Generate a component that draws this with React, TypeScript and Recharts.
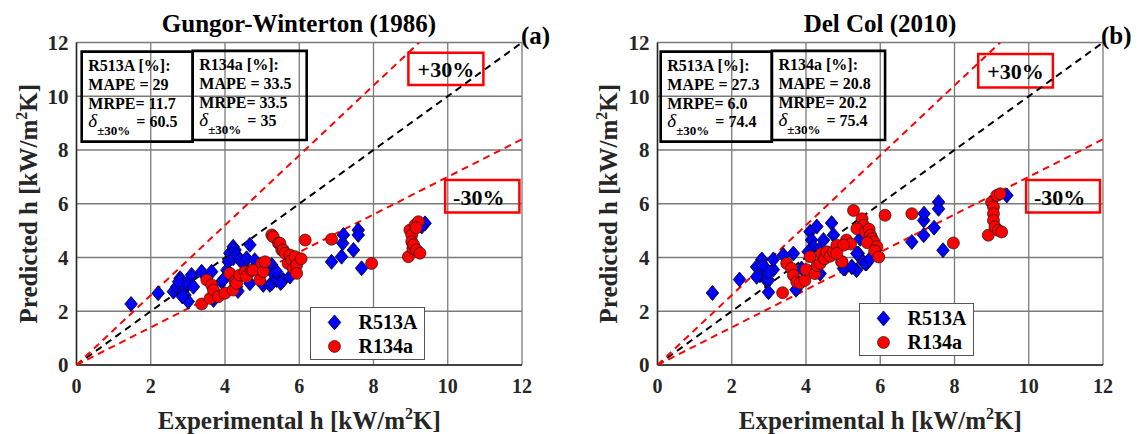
import React from 'react';
import { ScatterChart, Scatter, XAxis, YAxis, CartesianGrid, ReferenceArea, Legend } from 'recharts';

const FONT = '"Liberation Serif", "Times New Roman", serif';
const TICKS = [0, 2, 4, 6, 8, 10, 12];
const TEXT_COLOR = '#262626';

// Gungor-Winterton (1986): [experimental h, predicted h]
const gwR513A: [number, number][] = [
  [1.47, 2.27], [2.2, 2.67], [2.61, 2.73], [2.7, 2.91], [2.79, 3.23], [2.88, 2.79], [2.92, 2.6],
  [2.97, 3.04], [3.01, 2.36], [3.1, 3.35], [3.15, 2.91], [2.75, 3.1], [2.85, 2.55], [3.37, 3.47],
  [3.64, 3.47], [3.69, 2.42], [3.91, 3.1], [3.95, 3.16], [4.05, 3.53], [4.09, 3.84], [4.13, 4.16],
  [4.22, 4.4], [4.22, 3.97], [4.27, 4.28], [4.31, 4.09], [4.4, 3.91], [4.49, 3.78], [4.58, 3.97],
  [4.67, 4.47], [4.67, 3.04], [4.31, 2.91], [4.35, 2.75], [4.8, 3.9], [5.03, 2.98], [5.21, 2.98],
  [5.26, 3.04], [5.26, 3.72], [5.3, 3.41], [5.39, 3.16], [5.39, 3.47], [5.57, 3.16], [5.75, 3.29],
  [5.5, 3.05], [6.87, 3.84], [7.14, 4.03], [7.17, 4.53], [7.19, 4.84], [7.46, 4.28], [7.59, 5.02],
  [7.59, 4.84], [7.68, 3.6], [9.39, 5.27], [9.3, 5.15],
];
const gwR134a: [number, number][] = [
  [3.37, 2.27], [3.51, 3.16], [3.6, 2.48], [3.64, 2.98], [3.69, 2.79], [3.82, 2.54], [4.0, 2.67],
  [4.13, 3.41], [4.22, 2.79], [4.27, 3.1], [4.31, 3.04], [4.4, 3.35], [4.54, 3.47], [4.58, 3.29],
  [4.72, 3.53], [4.76, 3.53], [4.94, 3.16], [4.99, 3.78], [5.03, 3.47], [5.08, 3.84], [5.26, 4.84],
  [5.3, 4.77], [5.44, 4.53], [5.48, 4.53], [5.53, 4.28], [5.57, 4.28], [5.62, 4.16], [5.7, 3.78],
  [5.75, 4.09], [5.8, 3.91], [5.84, 3.6], [5.89, 4.03], [5.93, 3.72], [5.93, 3.41], [6.05, 3.95],
  [6.16, 4.65], [6.87, 4.68], [7.95, 3.78], [8.94, 4.03], [8.98, 5.02], [9.03, 4.84], [9.03, 4.59],
  [9.06, 4.34], [9.08, 4.47], [9.12, 5.21], [9.16, 4.28], [9.21, 5.33], [9.25, 4.16], [9.15, 5.1],
];

// Del Col (2010): [experimental h, predicted h]
const dcR513A: [number, number][] = [
  [1.48, 2.68], [2.21, 3.18], [2.81, 3.93], [2.67, 3.65], [2.76, 3.34], [2.9, 3.21], [2.99, 3.15],
  [3.12, 3.55], [2.99, 2.71], [3.12, 3.93], [2.67, 3.28], [2.85, 3.7], [3.0, 3.45], [3.39, 4.09],
  [3.66, 4.15], [3.73, 2.8], [3.88, 3.59], [4.11, 4.96], [4.29, 5.15], [4.15, 4.65], [4.2, 4.4],
  [4.06, 4.21], [4.69, 5.28], [4.74, 4.84], [4.38, 4.34], [4.47, 4.65], [4.24, 3.59], [4.38, 3.4],
  [5.05, 3.59], [5.23, 3.65], [5.36, 3.53], [5.41, 4.15], [5.54, 3.84], [5.63, 3.78], [5.46, 4.7],
  [5.37, 4.15], [5.6, 3.78], [5.01, 3.59], [5.24, 3.65], [5.71, 3.93], [6.85, 4.58], [7.17, 4.83],
  [7.17, 5.38], [7.18, 5.63], [7.45, 5.11], [7.57, 6.06], [7.57, 5.81], [7.69, 4.27], [9.41, 6.31],
];
const dcR134a: [number, number][] = [
  [3.37, 2.69], [3.48, 3.78], [3.61, 3.59], [3.66, 3.34], [3.75, 3.09], [3.84, 3.05], [3.97, 3.15],
  [4.0, 3.55], [4.11, 4.03], [4.24, 3.4], [4.3, 3.7], [4.38, 3.78], [4.42, 4.15], [4.5, 3.95],
  [4.56, 4.21], [4.65, 4.05], [4.74, 4.21], [4.83, 4.46], [4.96, 3.84], [5.09, 4.65], [5.2, 4.5],
  [5.01, 4.46], [4.97, 3.84], [4.83, 4.15], [5.28, 5.75], [5.51, 5.44], [5.55, 5.2], [5.37, 5.07],
  [5.6, 4.95], [5.7, 5.05], [5.74, 4.83], [5.78, 4.7], [5.83, 4.58], [5.65, 4.55], [5.91, 4.4],
  [5.85, 4.25], [5.96, 4.02], [6.13, 5.57], [6.85, 5.63], [7.97, 4.54], [8.91, 4.83], [9.0, 6.06],
  [9.05, 5.88], [9.05, 5.63], [9.05, 5.38], [9.09, 5.14], [9.18, 5.01], [9.27, 4.95], [9.14, 6.31],
  [9.23, 6.37],
];

const identityLine: [number, number][] = [[0, 0], [12, 12]];
const plus30Line: [number, number][] = [[0, 0], [12 / 1.3, 12]];
const minus30Line: [number, number][] = [[0, 0], [12, 8.4]];

const gwStats = {
  r513a: ['R513A [%]:', 'MAPE = 29', 'MRPE= 11.7', '60.5'],
  r134a: ['R134a [%]:', 'MAPE = 33.5', 'MRPE= 33.5', '35'],
};
const dcStats = {
  r513a: ['R513A [%]:', 'MAPE = 27.3', 'MRPE= 6.0', '74.4'],
  r134a: ['R134a [%]:', 'MAPE = 20.8', 'MRPE= 20.2', '75.4'],
};

const toPts = (arr: [number, number][]) => arr.map(([x, y]) => ({ x, y }));

const Diamond = (p: any) => {
  const { cx, cy } = p;
  if (cx == null || cy == null) return <g />;
  return (
    <path
      d={`M${cx},${cy - 7.5}L${cx + 6.3},${cy}L${cx},${cy + 7.5}L${cx - 6.3},${cy}Z`}
      fill="#0000ff"
      stroke="#000"
      strokeWidth={0.8}
    />
  );
};
const RedDot = (p: any) => {
  const { cx, cy } = p;
  if (cx == null || cy == null) return <g />;
  return <circle cx={cx} cy={cy} r={6} fill="#ff0000" stroke="#1a1a1a" strokeWidth={0.7} />;
};
const NoShape = () => <g />;

const statLabel = (lines: string[]) => (props: any) => {
  const vb = props.viewBox || {};
  const x = vb.x ?? 0;
  const y = vb.y ?? 0;
  const tx = x + 6.6;
  return (
    <g fontFamily={FONT} fontWeight="bold" fontSize={16} fill="#000">
      <text x={tx} y={y + 19.3}>{lines[0]}</text>
      <text x={tx} y={y + 38.3}>{lines[1]}</text>
      <text x={tx} y={y + 57.3}>{lines[2]}</text>
      <text x={tx} y={y + 75.5}>
        <tspan fontStyle="italic" fontWeight="normal" fontSize={19}>δ</tspan>
        <tspan fontSize={13} dy={7.5}>±30%</tspan>
        <tspan fontSize={16} dy={-7.5} dx={6}>= {lines[3]}</tspan>
      </text>
    </g>
  );
};

const pctLabel = (txt: string, shift: number) => (props: any) => {
  const vb = props.viewBox || {};
  return (
    <text
      x={(vb.x ?? 0) + (vb.width ?? 0) / 2 + shift}
      y={(vb.y ?? 0) + 24.5}
      textAnchor="middle"
      fontFamily={FONT}
      fontWeight="bold"
      fontSize={22}
      fill="#000"
    >
      {txt}
    </text>
  );
};

const xLabel = (props: any) => {
  const vb = props.viewBox || {};
  const cx = (vb.x ?? 0) + (vb.width ?? 0) / 2;
  const y = (vb.y ?? 0) + 64;
  return (
    <text x={cx} y={y} textAnchor="middle" fontFamily={FONT} fontWeight="bold" fontSize={25} fill={TEXT_COLOR}>
      Experimental h [kW/m<tspan fontSize={16} dy={-10}>2</tspan>
      <tspan dy={10}>K]</tspan>
    </text>
  );
};

const yLabel = (props: any) => {
  const vb = props.viewBox || {};
  const cy = (vb.y ?? 0) + (vb.height ?? 0) / 2;
  const x = 36.5;
  return (
    <text
      x={x}
      y={cy}
      transform={`rotate(-90, ${x}, ${cy})`}
      textAnchor="middle"
      fontFamily={FONT}
      fontWeight="bold"
      fontSize={25}
      fill={TEXT_COLOR}
    >
      Predicted h [kW/m<tspan fontSize={16} dy={-10}>2</tspan>
      <tspan dy={10}>K]</tspan>
    </text>
  );
};

const LegendBox = () => (
  <svg width={116} height={54} style={{ display: 'block' }}>
    <rect x={0.5} y={0.5} width={114} height={52} fill="#fff" stroke="#555" strokeWidth={1} />
    <path d="M24.5,7.9L30.8,15.4L24.5,22.9L18.2,15.4Z" fill="#0000ff" stroke="#000" strokeWidth={0.8} />
    <circle cx={24.5} cy={39.4} r={6} fill="#ff0000" stroke="#1a1a1a" strokeWidth={0.7} />
    <text x={48.5} y={22} fontFamily={FONT} fontWeight="bold" fontSize={20} fill="#000">R513A</text>
    <text x={48.5} y={46} fontFamily={FONT} fontWeight="bold" fontSize={20} fill="#000">R134a</text>
  </svg>
);

type PanelProps = {
  width: number;
  yAxisWidth: number;
  rightMargin: number;
  r513a: [number, number][];
  r134a: [number, number][];
  stats: { r513a: string[]; r134a: string[] };
  box1: [number, number];
  box2: [number, number];
  plusBox: [number, number, number, number];
  minusBox: [number, number, number, number];
  legendPos: { left: number; top: number };
};

const Panel = (p: PanelProps) => (
  <ScatterChart
    width={p.width}
    height={434}
    margin={{ top: 42.5, right: p.rightMargin, bottom: 0, left: 0 }}
    style={{ fontFamily: FONT }}
  >
    <CartesianGrid stroke="#7a7a7a" strokeWidth={1.3} />
    <XAxis
      type="number"
      dataKey="x"
      domain={[0, 12]}
      ticks={TICKS}
      allowDataOverflow
      tickLine={false}
      axisLine={{ stroke: '#262626', strokeWidth: 1.5 }}
      tick={{ fill: TEXT_COLOR, fontSize: 20, fontWeight: 'bold', fontFamily: FONT }}
      tickMargin={8}
      height={69}
      label={xLabel}
    />
    <YAxis
      type="number"
      dataKey="y"
      domain={[0, 12]}
      ticks={TICKS}
      allowDataOverflow
      tickLine={false}
      axisLine={{ stroke: '#262626', strokeWidth: 1.5 }}
      tick={{ fill: TEXT_COLOR, fontSize: 21, fontWeight: 'bold', fontFamily: FONT }}
      width={p.yAxisWidth}
      label={yLabel}
    />
    <ReferenceArea x1={p.box1[0]} x2={p.box1[1]} y1={8.31} y2={11.66} fill="none" stroke="#000" strokeWidth={2.6} label={statLabel(p.stats.r513a)} />
    <ReferenceArea x1={p.box2[0]} x2={p.box2[1]} y1={8.37} y2={11.69} fill="none" stroke="#000" strokeWidth={2.6} label={statLabel(p.stats.r134a)} />
    <ReferenceArea x1={p.plusBox[0]} x2={p.plusBox[1]} y1={p.plusBox[2]} y2={p.plusBox[3]} fill="none" stroke="#ff0000" strokeWidth={2.5} label={pctLabel('+30%', 0)} />
    <ReferenceArea x1={p.minusBox[0]} x2={p.minusBox[1]} y1={p.minusBox[2]} y2={p.minusBox[3]} fill="none" stroke="#ff0000" strokeWidth={2.5} label={pctLabel('-30%', -3.5)} />
    <Scatter data={toPts(identityLine)} line={{ stroke: '#000', strokeWidth: 2, strokeDasharray: '7 5' }} shape={NoShape} legendType="none" isAnimationActive={false} />
    <Scatter data={toPts(plus30Line)} line={{ stroke: '#ff0000', strokeWidth: 2, strokeDasharray: '7 5' }} shape={NoShape} legendType="none" isAnimationActive={false} />
    <Scatter data={toPts(minus30Line)} line={{ stroke: '#ff0000', strokeWidth: 2, strokeDasharray: '7 5' }} shape={NoShape} legendType="none" isAnimationActive={false} />
    <Scatter name="R513A" data={toPts(p.r513a)} shape={Diamond} isAnimationActive={false} />
    <Scatter name="R134a" data={toPts(p.r134a)} shape={RedDot} isAnimationActive={false} />
    <Legend
      verticalAlign="middle"
      align="center"
      content={() => <LegendBox />}
      wrapperStyle={{ position: 'absolute', left: p.legendPos.left, top: p.legendPos.top, width: 116, height: 54 }}
    />
  </ScatterChart>
);

export default function App() {
  return (
    <div style={{ position: 'absolute', left: 0, top: 0, width: 1137, height: 434, background: '#fff', overflow: 'hidden' }}>
      <div style={{ position: 'absolute', left: 0, top: 0 }}>
        <Panel
          width={560}
          yAxisWidth={76.5}
          rightMargin={38}
          r513a={gwR513A}
          r134a={gwR134a}
          stats={gwStats}
          box1={[0.14, 3.13]}
          box2={[3.13, 6.2]}
          plusBox={[8.94, 10.96, 10.42, 11.62]}
          minusBox={[9.93, 11.93, 5.67, 6.88]}
          legendPos={{ left: 310, top: 307 }}
        />
      </div>
      <div style={{ position: 'absolute', left: 580, top: 0 }}>
        <Panel
          width={557}
          yAxisWidth={77.5}
          rightMargin={34}
          r513a={dcR513A}
          r134a={dcR134a}
          stats={dcStats}
          box1={[0.086, 3.08]}
          box2={[3.08, 6.13]}
          plusBox={[8.64, 10.65, 10.33, 11.57]}
          minusBox={[9.93, 11.92, 5.67, 6.88]}
          legendPos={{ left: 279, top: 303 }}
        />
      </div>
      <svg width={1137} height={434} style={{ position: 'absolute', left: 0, top: 0, pointerEvents: 'none' }}>
        <g fontFamily={FONT} fontWeight="bold" fill="#000">
          <text x={299} y={32.3} textAnchor="middle" fontSize={25}>Gungor-Winterton (1986)</text>
          <text x={521} y={44} fontSize={25}>(a)</text>
          <text x={880} y={32.3} textAnchor="middle" fontSize={25}>Del Col (2010)</text>
          <text x={1101} y={44} fontSize={25}>(b)</text>
        </g>
      </svg>
    </div>
  );
}
